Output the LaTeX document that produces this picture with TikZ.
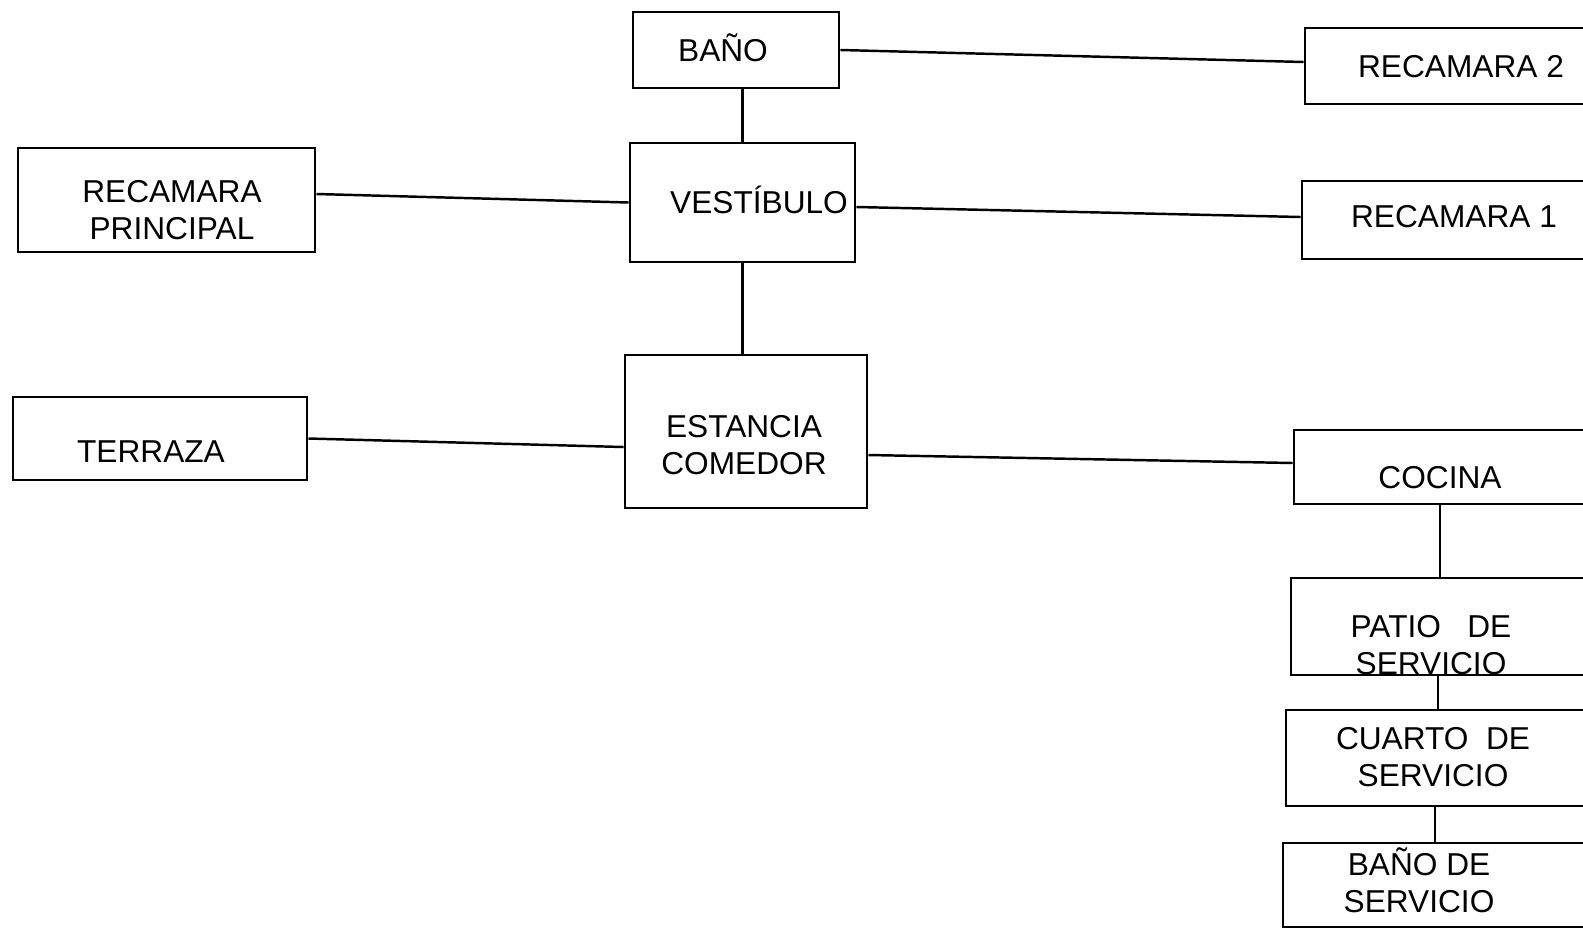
\documentclass[tikz,border=0pt]{standalone}
\usepackage{fontspec}
\setmainfont{Liberation Sans}

\begin{document}
\begin{tikzpicture}[x=0.01cm, y=-0.01cm,
  room/.style={draw, line width=0.8pt, inner sep=0pt},
  txt/.style={align=center, inner sep=0pt, font=\fontsize{9}{10.5}\selectfont},
  link/.style={line width=0.7pt}]
\useasboundingbox (0,0) rectangle (1583,930);
\clip (0,0) rectangle (1583,930);

\node[room, minimum width=2.06cm, minimum height=0.76cm] (bano) at (736,50) {};
\node[room, minimum width=2.25cm, minimum height=1.19cm] (vest) at (742.5,202.5) {};
\node[room, minimum width=2.42cm, minimum height=1.53cm] (est) at (746,431.5) {};
\node[room, minimum width=2.97cm, minimum height=1.04cm] (recprin) at (166.5,200) {};
\node[room, minimum width=2.94cm, minimum height=0.83cm] (terraza) at (160,438.5) {};
\node[room, minimum width=3.35cm, minimum height=0.76cm] (rec2) at (1472.5,66) {};
\node[room, minimum width=3.38cm, minimum height=0.78cm] (rec1) at (1471,220) {};
\node[room, minimum width=3.46cm, minimum height=0.74cm] (cocina) at (1467,467) {};
\node[room, minimum width=3.49cm, minimum height=0.97cm] (patio) at (1465.5,626.5) {};
\node[room, minimum width=3.54cm, minimum height=0.96cm] (cuarto) at (1463,758) {};
\node[room, minimum width=3.57cm, minimum height=0.84cm] (banoserv) at (1461.5,885) {};

\node[txt] (t-bano) at (723,48) {BAÑO};
\node[txt] (t-vest) at (759,200) {VESTÍBULO};
\node[txt] (t-est) at (744,445) {ESTANCIA\\COMEDOR};
\node[txt] (t-recprin) at (172,210) {RECAMARA\\PRINCIPAL};
\node[txt] (t-terraza) at (151,452) {TERRAZA};
\node[txt] (t-rec2) at (1461,67) {RECAMARA 2};
\node[txt] (t-rec1) at (1454,217) {RECAMARA 1};
\node[txt] (t-cocina) at (1440,478) {COCINA};
\node[txt] (t-patio) at (1431,645) {PATIO\ \ \ DE\\SERVICIO};
\node[txt] (t-cuarto) at (1433,757) {CUARTO\ \ DE\\SERVICIO};
\node[txt] (t-banoserv) at (1419,880) {BAÑO DE\\SERVICIO};

\draw[link] (bano.east) -- ([yshift=0.04cm]rec2.west);
\draw[link] ([yshift=0.06cm]recprin.east) -- (vest.west);
\draw[link] ([yshift=-0.045cm]vest.east) -- ([yshift=0.03cm]rec1.west);
\draw[link] (terraza.east) -- ([yshift=-0.155cm]est.west);
\draw[link] ([yshift=-0.235cm]est.east) -- ([yshift=0.04cm]cocina.west);

\draw[link] (vest.north) -- (vest.north |- bano.south);
\draw[link] (vest.south) -- (vest.south |- est.north);
\draw[link] (t-cocina |- cocina.south) -- (t-cocina |- patio.north);
\draw[link] ([xshift=0.07cm]t-patio |- patio.south) -- ([xshift=0.07cm]t-patio |- cuarto.north);
\draw[link] ([xshift=0.02cm]t-cuarto |- cuarto.south) -- ([xshift=0.02cm]t-cuarto |- banoserv.north);
\end{tikzpicture}
\end{document}
